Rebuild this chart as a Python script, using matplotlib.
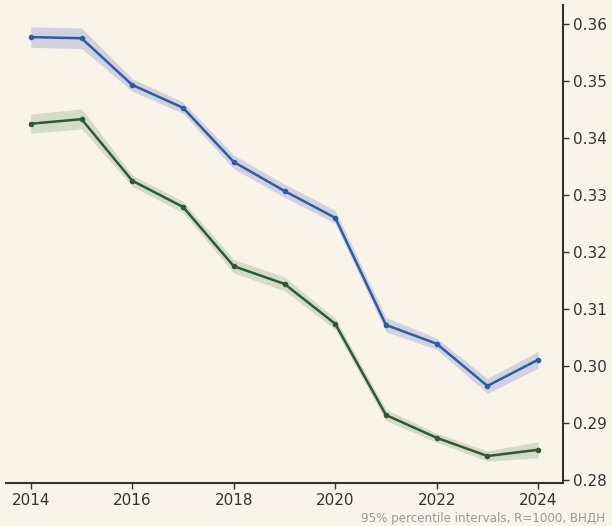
import matplotlib
matplotlib.use("Agg")
import matplotlib.pyplot as plt
import numpy as np

years = [2014, 2015, 2016, 2017, 2018, 2019, 2020, 2021, 2022, 2023, 2024]
blue = [0.3577, 0.3575, 0.3493, 0.3453, 0.3358, 0.3307, 0.3260, 0.3072, 0.3039, 0.2965, 0.3011]
blue_lo = [0.3559, 0.3557, 0.3482, 0.3443, 0.3346, 0.3296, 0.3250, 0.3060, 0.3029, 0.2952, 0.2996]
blue_hi = [0.3595, 0.3593, 0.3504, 0.3463, 0.3370, 0.3319, 0.3273, 0.3085, 0.3049, 0.2978, 0.3026]
green = [0.3425, 0.3433, 0.3325, 0.3279, 0.3175, 0.3144, 0.3074, 0.2914, 0.2874, 0.2842, 0.2853]
green_lo = [0.3408, 0.3416, 0.3315, 0.3269, 0.3163, 0.3132, 0.3064, 0.2904, 0.2866, 0.2833, 0.2839]
green_hi = [0.3442, 0.3451, 0.3335, 0.3289, 0.3187, 0.3156, 0.3084, 0.2924, 0.2882, 0.2851, 0.2867]
yticks = [0.28, 0.29, 0.30, 0.31, 0.32, 0.33, 0.34, 0.35, 0.36]
xticks = [2014, 2016, 2018, 2020, 2022, 2024]
footer = "95% percentile intervals, R=1000, ВНДН"

bg = "#f9f4e8"
txt = "#333333"
fig = plt.figure(figsize=(6.12, 5.26), dpi=100, facecolor=bg)
ax = fig.add_axes([6/612, 1-483/526, (563-6)/612, (483-5)/526], facecolor=bg)

ax.fill_between(years, blue_lo, blue_hi, color="#d2d2dc", lw=0, zorder=1)
ax.fill_between(years, green_lo, green_hi, color="#d3dcc6", lw=0, zorder=1)
ax.plot(years, blue, color="#2b5cab", lw=1.8, marker="o", ms=3, zorder=3)
ax.plot(years, green, color="#2d5a35", lw=1.8, marker="o", ms=3, zorder=3)

ax.set_xlim(2013.51, 2024.49)
ax.set_ylim(0.27947, 0.36333)
ax.set_xticks(xticks)
ax.set_xticklabels([str(x) for x in xticks])
ax.set_yticks(yticks)
ax.set_yticklabels([f"{y:.2f}" for y in yticks])
ax.yaxis.tick_right()
for s in ["top", "left"]:
    ax.spines[s].set_visible(False)
for s in ["right", "bottom"]:
    ax.spines[s].set_color(txt)
    ax.spines[s].set_linewidth(1.5)
ax.tick_params(colors=txt, labelsize=11, length=4, width=1)
ax.tick_params(axis="y", pad=3)

fig.text(605/612, 1-525/526, footer, ha="right", va="bottom", fontsize=8.6, color="#999999")

fig.savefig("out.png", dpi=100, facecolor=bg)
